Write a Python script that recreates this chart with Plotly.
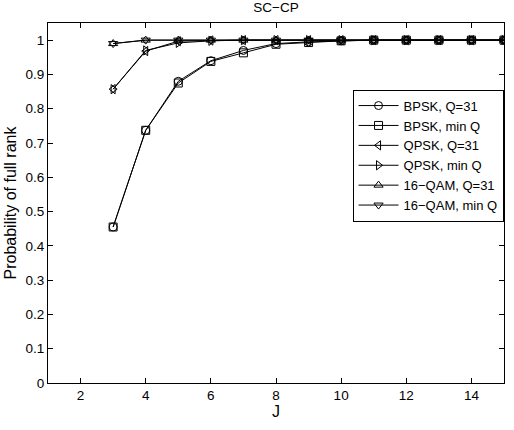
import plotly.graph_objects as go

J = [3, 4, 5, 6, 7, 8, 9, 10, 11, 12, 13, 14, 15]
bpsk_q31 = [0.455, 0.737, 0.880, 0.940, 0.970, 0.990, 0.995, 0.998, 1, 1, 1, 1, 1]
bpsk_minq = [0.455, 0.737, 0.875, 0.938, 0.963, 0.988, 0.993, 0.998, 1, 1, 1, 1, 1]
qpsk_q31 = [0.857, 0.968, 0.997, 0.999, 1, 1, 1, 1, 1, 1, 1, 1, 1]
qpsk_minq = [0.857, 0.970, 0.992, 0.998, 1, 1, 1, 1, 1, 1, 1, 1, 1]
qam_q31 = [0.990, 1, 1, 1, 1, 1, 1, 1, 1, 1, 1, 1, 1]
qam_minq = [0.990, 1, 1, 1, 1, 1, 1, 1, 1, 1, 1, 1, 1]

series = [
    ("BPSK, Q=31", bpsk_q31, "circle-open"),
    ("BPSK, min Q", bpsk_minq, "square-open"),
    ("QPSK, Q=31", qpsk_q31, "triangle-left-open"),
    ("QPSK, min Q", qpsk_minq, "triangle-right-open"),
    ("16\u2212QAM, Q=31", qam_q31, "triangle-up-open"),
    ("16\u2212QAM, min Q", qam_minq, "triangle-down-open"),
]

xticks = [2, 4, 6, 8, 10, 12, 14]
yticks = [0, 0.1, 0.2, 0.3, 0.4, 0.5, 0.6, 0.7, 0.8, 0.9, 1]
ytext = ["0", "0.1", "0.2", "0.3", "0.4", "0.5", "0.6", "0.7", "0.8", "0.9", "1"]

fig = go.Figure()
for name, vals, sym in series:
    fig.add_trace(go.Scatter(
        x=J, y=vals, name=name, mode="lines+markers",
        line=dict(color="black", width=1),
        marker=dict(symbol=sym, size=8, color="black", line=dict(width=1, color="black")),
    ))

FS = 13.5
FAM = "Liberation Sans, Arial, sans-serif"
font = dict(family=FAM, size=FS, color="black")
fig.update_layout(
    width=514, height=430,
    margin=dict(l=48, r=10, t=23, b=47),
    paper_bgcolor="white", plot_bgcolor="white",
    font=font,
    title=dict(text="SC\u2212CP", x=(48 + 504) / 2 / 514, xanchor="center", y=0.982, yanchor="middle",
               font=dict(size=FS)),
    xaxis=dict(range=[1, 15], tickvals=xticks, ticks="inside", ticklen=5, tickcolor="black",
               tickfont=dict(family=FAM, size=FS, color="black"),
               showline=True, linecolor="black", linewidth=1, mirror="ticks", showgrid=False,
               zeroline=False, title=dict(text="J", standoff=3)),
    yaxis=dict(range=[0, 1.05], tickvals=yticks, ticktext=ytext, ticks="inside", ticklen=5,
               tickfont=dict(family=FAM, size=FS, color="black"),
               tickcolor="black", showline=True, linecolor="black", linewidth=1, mirror="ticks",
               showgrid=False, zeroline=False, title=dict(text="Probability of full rank", standoff=4)),
    legend=dict(x=0.999, y=0.815, xanchor="right", yanchor="top", bordercolor="black",
                borderwidth=1, bgcolor="white", font=dict(family=FAM, size=13, color="black"),
                tracegroupgap=0, itemwidth=40),
    showlegend=True,
)
fig.write_html("out.html")
